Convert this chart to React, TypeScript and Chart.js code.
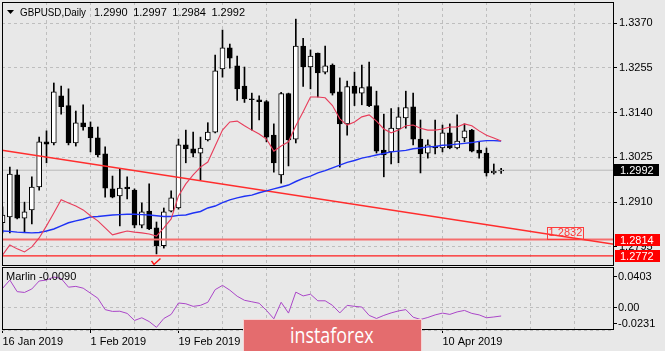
import React, { useEffect, useRef } from "react";
import { Chart, registerables } from "chart.js";

Chart.register(...registerables);

const FONT = "'Liberation Sans', Arial, sans-serif";
const BG = "#e8e8e8";
const GRID = "rgb(190,190,190)";

const symbolTitle = "GBPUSD,Daily";
const lastOHLC = [1.299, 1.2997, 1.2984, 1.2992];
const dateLabels = ["16 Jan 2019", "1 Feb 2019", "19 Feb 2019", "7 Mar 2019", "25 Mar 2019", "10 Apr 2019"];
const gridBarStep = 6;
const labelBarStep = 12;

const opens = [1.2857,1.2872,1.2980,1.2869,1.2890,1.2949,1.3065,1.3062,1.3183,1.3158,
1.3062,1.3114,1.3103,1.3075,1.3034,1.2944,1.2926,1.2949,1.2941,1.2851,
1.2887,1.2844,1.2798,1.2887,1.2895,1.3057,1.3047,1.3036,1.3070,1.3090,
1.3252,1.3306,1.3260,1.3208,1.3175,1.3173,1.3168,1.3082,1.2980,1.3189,
1.3072,1.3311,1.3257,1.3293,1.3244,1.3262,1.3193,1.3111,1.3208,1.3190,
1.3207,1.3158,1.3044,1.3039,1.3098,1.3126,1.3155,1.3072,1.3036,1.3054,
1.3049,1.3088,1.3049,1.3075,1.3095,1.3044,1.3036,1.2985,1.2990];
const highs = [1.2898,1.3000,1.2993,1.2910,1.2975,1.3077,1.3093,1.3216,1.3208,1.3201,
1.3144,1.3160,1.3116,1.3103,1.3052,1.2977,1.2995,1.2975,1.2944,1.2908,
1.2957,1.2859,1.2895,1.2939,1.3072,1.3095,1.3090,1.3077,1.3114,1.3288,
1.3352,1.3316,1.3285,1.3257,1.3190,1.3183,1.3171,1.3111,1.3192,1.3190,
1.3380,1.3331,1.3301,1.3293,1.3311,1.3265,1.3229,1.3221,1.3244,1.3262,
1.3270,1.3195,1.3136,1.3150,1.3153,1.3195,1.3190,1.3121,1.3070,1.3121,
1.3108,1.3111,1.3134,1.3111,1.3097,1.3065,1.3049,1.3008,1.2997];
const lows = [1.2831,1.2831,1.2867,1.2833,1.2854,1.2941,1.3011,1.3057,1.3136,1.3057,
1.3054,1.3095,1.3039,1.3026,1.2923,1.2921,1.2849,1.2918,1.2844,1.2844,
1.2839,1.2777,1.2792,1.2885,1.2892,1.3011,1.3026,1.2967,1.3067,1.3088,
1.3231,1.3254,1.3171,1.3166,1.3095,1.3121,1.3065,1.2987,1.2959,1.3003,
1.3062,1.3207,1.3201,1.3180,1.3239,1.3185,1.3000,1.3082,1.3158,1.3160,
1.3155,1.3036,1.2975,1.3008,1.3011,1.3100,1.3057,1.2985,1.3023,1.3034,
1.3039,1.3047,1.3047,1.3065,1.3039,1.3023,1.2977,1.2982,1.2984];
const closes = [1.2877,1.2982,1.2869,1.2885,1.2949,1.3065,1.3059,1.3193,1.3155,1.3062,
1.3114,1.3103,1.3075,1.3031,1.2946,1.2923,1.2946,1.2944,1.2851,1.2885,
1.2841,1.2798,1.2885,1.2921,1.3057,1.3047,1.3036,1.3049,1.3090,1.3247,
1.3306,1.3280,1.3201,1.3175,1.3173,1.3168,1.3077,1.3011,1.3189,1.3070,
1.3311,1.3257,1.3285,1.3242,1.3260,1.3190,1.3111,1.3207,1.3189,1.3204,
1.3158,1.3041,1.3031,1.3100,1.3129,1.3153,1.3072,1.3034,1.3057,1.3049,
1.3088,1.3049,1.3067,1.3093,1.3041,1.3036,1.2985,1.2990,1.2992];

const maFast = [1.2774,1.2800,1.2790,1.2782,1.2795,1.2818,1.2849,1.2882,1.2916,1.2908,
1.2900,1.2890,1.2875,1.2862,1.2844,1.2826,1.2831,1.2836,1.2833,1.2831,
1.2828,1.2823,1.2844,1.2867,1.2926,1.2957,1.2980,1.3000,1.3013,1.3054,
1.3095,1.3116,1.3118,1.3106,1.3095,1.3085,1.3072,1.3041,1.3054,1.3065,
1.3106,1.3142,1.3180,1.3180,1.3178,1.3158,1.3124,1.3108,1.3116,1.3129,
1.3134,1.3118,1.3098,1.3088,1.3095,1.3106,1.3108,1.3100,1.3095,1.3095,
1.3098,1.3103,1.3103,1.3111,1.3106,1.3093,1.3082,1.3075,1.3067];
const maSlow = [1.2836,1.2835,1.2833,1.2832,1.2831,1.2832,1.2836,1.2841,1.2849,1.2857,
1.2862,1.2866,1.2872,1.2873,1.2875,1.2877,1.2878,1.2879,1.2879,1.2878,
1.2877,1.2875,1.2873,1.2873,1.2876,1.2877,1.2882,1.2886,1.2895,1.2900,
1.2909,1.2916,1.2921,1.2925,1.2928,1.2934,1.2939,1.2944,1.2949,1.2954,
1.2963,1.2971,1.2977,1.2985,1.2991,1.2998,1.3005,1.3012,1.3017,1.3023,
1.3027,1.3031,1.3035,1.3039,1.3041,1.3043,1.3047,1.3049,1.3052,1.3053,
1.3056,1.3057,1.3059,1.3061,1.3063,1.3066,1.3068,1.3068,1.3067];
const marlin = [0.0187,0.0272,0.0155,0.0147,0.0182,0.0262,0.0272,0.0302,0.0287,0.0200,
0.0208,0.0190,0.0139,0.0089,-0.0026,-0.0044,-0.0042,-0.0064,-0.0135,-0.0108,
-0.0146,-0.0204,-0.0115,-0.0074,0.0041,0.0033,0.0007,0.0017,0.0048,0.0175,
0.0218,0.0170,0.0109,0.0068,0.0053,0.0038,-0.0034,-0.0118,0.0048,-0.0061,
0.0150,0.0112,0.0129,0.0063,0.0063,0.0017,-0.0059,0.0017,0.0007,0.0000,
-0.0084,-0.0115,-0.0084,-0.0059,-0.0039,-0.0026,-0.0102,-0.0125,-0.0105,-0.0079,
-0.0061,-0.0074,-0.0049,-0.0034,-0.0064,-0.0079,-0.0108,-0.0100,-0.0090];

const priceTicks = [1.337, 1.3255, 1.314, 1.3025, 1.291, 1.2795];
const marlinTicks = [0.0403, 0.0, -0.0231];
const marlinTickLabels = ["0.0403", "0.00", "-0.0231"];
const supportLevels = [1.2814, 1.2772];
const bidPrice = 1.2992;
const trendStart = 1.3043;
const trendEnd = 1.2802;
const trendLabel = 1.2832;
const marlinLast = -0.009;
const watermarkText = "instaforex";

const priceMin = 1.2746;
const priceMax = 1.3424;
const xMin = -0.068;
const xMax = 83.39;

const bars = closes.map((_, i) => i);
const gridValues = (from: number) => {
  const out: number[] = [];
  for (let v = from; v <= xMax; v += gridBarStep) out.push(v);
  return out;
};

const noPad = (s: any) => {
  s.paddingTop = 0;
  s.paddingBottom = 0;
  s.paddingLeft = 0;
  s.paddingRight = 0;
};

const mainOverlay = {
  id: "mainOverlay",
  afterDraw(chart: any) {
    const { ctx, chartArea: a, scales } = chart;
    const xs = scales.x;
    const ys = scales.y;
    ctx.save();
    // check mark under the lowest bar
    const lowIdx = lows.indexOf(Math.min(...lows));
    const cx = xs.getPixelForValue(lowIdx);
    const cy = ys.getPixelForValue(lows[lowIdx]);
    ctx.strokeStyle = "rgb(255,20,20)";
    ctx.lineWidth = 1.5;
    ctx.beginPath();
    ctx.moveTo(cx - 5, cy + 7);
    ctx.lineTo(cx - 2.5, cy + 10.5);
    ctx.lineTo(cx + 4, cy + 4.5);
    ctx.stroke();

    // trend label
    const tx = xs.getPixelForValue(74.2);
    const ty = ys.getPixelForValue(trendLabel);
    ctx.font = `11px ${FONT}`;
    ctx.textBaseline = "middle";
    ctx.textAlign = "left";
    ctx.strokeStyle = "rgb(255,60,60)";
    ctx.lineWidth = 1;
    ctx.strokeRect(Math.round(tx) + 0.5, Math.round(ty - 6) + 0.5, 36, 12);
    ctx.fillStyle = "rgb(255,55,55)";
    ctx.fillText(trendLabel.toFixed(4), tx + 2, ty + 0.5);

    // frame
    ctx.strokeStyle = "#000";
    ctx.lineWidth = 1;
    ctx.strokeRect(a.left + 0.5, a.top + 0.5, a.right - a.left - 1, a.bottom - a.top - 1);

    // title
    ctx.fillStyle = "#000";
    ctx.beginPath();
    ctx.moveTo(a.left + 5, a.top + 8);
    ctx.lineTo(a.left + 12, a.top + 8);
    ctx.lineTo(a.left + 8.5, a.top + 12);
    ctx.closePath();
    ctx.fill();
    ctx.fillText(symbolTitle, a.left + 18, a.top + 10.5, 66);
    let x = a.left + 92;
    lastOHLC.forEach((v) => {
      const s = v.toFixed(4);
      ctx.fillText(s, x, a.top + 10.5);
      x += ctx.measureText(s).width + 5.5;
    });

    // right-side price boxes
    const by = ys.getPixelForValue(bidPrice);
    ctx.fillStyle = "#000";
    ctx.fillRect(a.right, Math.round(by - 6), 45, 12);
    ctx.fillStyle = "#fff";
    ctx.fillText(bidPrice.toFixed(4), a.right + 6, by + 0.5);
    supportLevels.forEach((lv) => {
      const ly = ys.getPixelForValue(lv);
      ctx.fillStyle = "rgb(255,0,0)";
      ctx.fillRect(a.right + 1, Math.round(ly - 5.5), 45, 12);
      ctx.fillStyle = "#fff";
      ctx.fillText(lv.toFixed(4), a.right + 6, ly + 1);
    });
    ctx.restore();
  },
};

const subOverlay = {
  id: "subOverlay",
  afterDraw(chart: any) {
    const { ctx, chartArea: a, scales } = chart;
    const ys = scales.y;
    ctx.save();
    ctx.strokeStyle = "#000";
    ctx.lineWidth = 1;
    ctx.strokeRect(a.left + 0.5, a.top + 0.5, a.right - a.left - 1, a.bottom - a.top - 1);
    ctx.font = `11px ${FONT}`;
    ctx.textBaseline = "middle";
    ctx.textAlign = "left";
    ctx.fillStyle = "#000";
    ctx.fillText(`Marlin ${marlinLast.toFixed(4)}`, a.left + 4, a.top + 10);
    marlinTicks.forEach((v, i) => {
      let y = ys.getPixelForValue(v);
      y = Math.min(Math.max(y, a.top + 8.5), a.bottom - 7.5);
      y = Math.round(y) + 0.5;
      ctx.beginPath();
      ctx.moveTo(a.right, y);
      ctx.lineTo(a.right + 3, y);
      ctx.stroke();
      ctx.fillText(marlinTickLabels[i], a.right + 4, y);
    });
    ctx.restore();
  },
};

function lineSet(data: any[], color: string, width: number, order: number) {
  return {
    type: "line",
    data,
    borderColor: color,
    borderWidth: width,
    pointRadius: 0,
    tension: 0,
    fill: false,
    order,
  };
}

function mainConfig(): any {
  return {
    type: "bar",
    data: {
      datasets: [
        lineSet([{ x: xMin, y: bidPrice }, { x: xMax, y: bidPrice }], "rgb(185,185,185)", 1, 20),
        {
          type: "bar",
          data: bars.map((i) => ({ x: i, y: [lows[i], highs[i]] })),
          backgroundColor: "#000",
          barThickness: 1,
          grouped: false,
          order: 12,
        },
        {
          type: "bar",
          data: bars.map((i) => ({ x: i, y: [opens[i], closes[i]] })),
          backgroundColor: bars.map((i) => (closes[i] >= opens[i] ? "#ffffff" : "#000000")),
          borderColor: "#000",
          borderWidth: 1,
          borderSkipped: false,
          barThickness: 5,
          minBarLength: 1,
          grouped: false,
          order: 11,
        },
        lineSet([{ x: xMin, y: supportLevels[0] }, { x: xMax, y: supportLevels[0] }], "rgb(245,110,110)", 2, 6),
        lineSet([{ x: xMin, y: supportLevels[1] }, { x: xMax, y: supportLevels[1] }], "rgb(255,30,30)", 1.3, 6),
        lineSet([{ x: xMin, y: trendStart }, { x: xMax, y: trendEnd }], "rgb(255,45,45)", 1.5, 5),
        lineSet(bars.map((i) => ({ x: i, y: maSlow[i] })), "rgb(30,50,245)", 1.4, 4),
        lineSet(bars.map((i) => ({ x: i, y: maFast[i] })), "rgb(232,60,90)", 1.1, 3),
      ],
    },
    options: {
      animation: false,
      responsive: false,
      devicePixelRatio: 1,
      events: [],
      layout: { padding: { left: 2, top: 2, right: 0, bottom: 1 } },
      plugins: { legend: { display: false }, tooltip: { enabled: false } },
      scales: {
        x: {
          type: "linear",
          min: xMin,
          max: xMax,
          offset: false,
          afterBuildTicks: (s: any) => {
            s.ticks = gridValues(gridBarStep).map((v) => ({ value: v }));
          },
          afterFit: (s: any) => {
            s.height = 0;
            noPad(s);
          },
          ticks: { display: false },
          grid: { color: GRID, drawTicks: false, offset: false },
          border: { display: false, dash: [3, 3] },
        },
        y: {
          type: "linear",
          position: "right",
          min: priceMin,
          max: priceMax,
          afterBuildTicks: (s: any) => {
            s.ticks = priceTicks.map((v) => ({ value: v }));
          },
          afterFit: (s: any) => {
            s.width = 51;
            noPad(s);
          },
          ticks: {
            callback: (v: any) => Number(v).toFixed(4),
            color: "#000",
            font: { family: FONT, size: 11 },
            padding: 2,
          },
          grid: { color: GRID, tickColor: "#000", tickLength: 3, tickBorderDash: [] },
          border: { display: false, dash: [3, 3] },
        },
      },
    },
    plugins: [mainOverlay],
  };
}

function subConfig(): any {
  return {
    type: "line",
    data: {
      datasets: [lineSet(bars.map((i) => ({ x: i, y: marlin[i] })), "rgb(170,70,200)", 1, 1)],
    },
    options: {
      animation: false,
      responsive: false,
      devicePixelRatio: 1,
      events: [],
      layout: { padding: { left: 2, top: 2, right: 0, bottom: 0 } },
      plugins: { legend: { display: false }, tooltip: { enabled: false } },
      scales: {
        x: {
          type: "linear",
          min: xMin,
          max: xMax,
          offset: false,
          afterBuildTicks: (s: any) => {
            s.ticks = gridValues(0).map((v) => ({ value: v }));
          },
          afterFit: (s: any) => {
            s.height = 21;
            noPad(s);
          },
          ticks: {
            autoSkip: false,
            maxRotation: 0,
            minRotation: 0,
            align: "start",
            padding: 2,
            color: "#000",
            font: { family: FONT, size: 11 },
            callback: (v: any) => {
              const n = Number(v);
              if (n % labelBarStep !== 0 || n >= bars.length) return "";
              return dateLabels[n / labelBarStep] || "";
            },
          },
          grid: {
            color: GRID,
            offset: false,
            tickLength: 3,
            tickBorderDash: [],
            tickColor: (c: any) =>
              c.tick && c.tick.value % labelBarStep === 0 && c.tick.value < bars.length ? "#000" : "rgba(0,0,0,0)",
          },
          border: { display: false, dash: [3, 3] },
        },
        y: {
          type: "linear",
          position: "right",
          min: marlinTicks[2],
          max: marlinTicks[0],
          afterBuildTicks: (s: any) => {
            s.ticks = marlinTicks.map((v) => ({ value: v }));
          },
          afterFit: (s: any) => {
            s.width = 51;
            noPad(s);
          },
          ticks: { display: false },
          grid: { color: GRID, drawTicks: false },
          border: { display: false, dash: [3, 3] },
        },
      },
    },
    plugins: [subOverlay],
  };
}

export default function App() {
  const mainRef = useRef<HTMLCanvasElement>(null);
  const subRef = useRef<HTMLCanvasElement>(null);
  useEffect(() => {
    const main = new Chart(mainRef.current as HTMLCanvasElement, mainConfig());
    const sub = new Chart(subRef.current as HTMLCanvasElement, subConfig());
    return () => {
      main.destroy();
      sub.destroy();
    };
  }, []);
  return (
    <div style={{ position: "fixed", left: 0, top: 0, width: 665, height: 351, background: BG, overflow: "hidden" }}>
      <canvas ref={mainRef} width={665} height={267} style={{ position: "absolute", left: 0, top: 0 }} />
      <canvas ref={subRef} width={665} height={86} style={{ position: "absolute", left: 0, top: 265 }} />
      <div
        style={{
          position: "absolute",
          left: 243,
          top: 319,
          width: 179,
          height: 34,
          boxSizing: "border-box",
          background: "rgb(228,108,110)",
          border: "1px solid rgba(255,255,255,0.7)",
        }}
      >
        <span
          style={{
            position: "absolute",
            left: 46,
            top: 0,
            color: "#fff",
            fontFamily: "'Open Sans', 'Liberation Sans', sans-serif",
            fontSize: 21,
            lineHeight: "30px",
            whiteSpace: "nowrap",
            transform: "scaleX(0.85)",
            transformOrigin: "left center",
          }}
        >
          {watermarkText}
        </span>
      </div>
    </div>
  );
}
